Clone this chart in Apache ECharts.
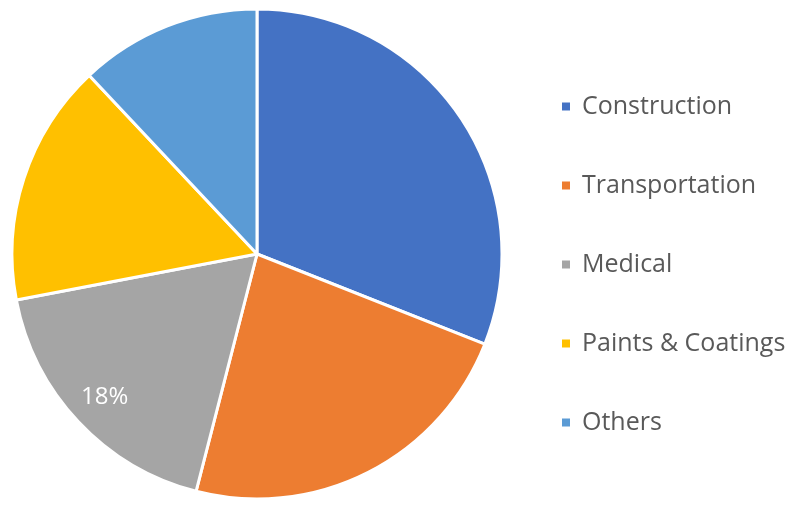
<!DOCTYPE html>
<html>
<head>
<meta charset="utf-8">
<script src="https://cdn.jsdelivr.net/npm/echarts@6/dist/echarts.min.js"></script>
<style>html,body{margin:0;padding:0;background:#fff}#c{width:800px;height:508px}</style>
</head>
<body>
<div id="c"></div>
<script>
const categories = ['Construction', 'Transportation', 'Medical', 'Paints & Coatings', 'Others'];
const shares = [31, 23, 18, 16, 12];
const colors = ['#4472C4', '#ED7D31', '#A5A5A5', '#FFC000', '#5B9BD5'];
const labelled = ['Medical'];

const chart = echarts.init(document.getElementById('c'), null, {renderer: 'canvas'});
const mainData = categories.map((n, i) => ({name: n, value: shares[i], itemStyle: {color: colors[i]}}));
const labelData = categories.map((n, i) => ({
  name: n, value: shares[i],
  label: {show: labelled.includes(n)}
}));
chart.setOption({
  animation: false,
  backgroundColor: '#ffffff',
  legend: {
    orient: 'vertical',
    left: 560,
    top: 94,
    padding: 0,
    data: categories,
    icon: 'rect',
    itemWidth: 10,
    itemHeight: 10,
    itemGap: 54,
    selectedMode: false,
    textStyle: {fontFamily: 'Open Sans', fontSize: 25, lineHeight: 25, color: '#595959', padding: [0, 0, 0, 6]}
  },
  series: [
    {
      type: 'pie',
      center: [257, 254],
      radius: [0, 245],
      startAngle: 90,
      clockwise: true,
      silent: true,
      data: mainData,
      label: {show: false},
      labelLine: {show: false},
      itemStyle: {borderColor: '#ffffff', borderWidth: 3}
    },
    {
      type: 'pie',
      center: [257, 254],
      radius: [167, 245],
      startAngle: 90,
      clockwise: true,
      silent: true,
      data: labelData,
      itemStyle: {color: 'rgba(0,0,0,0)', borderWidth: 0},
      label: {position: 'inside', formatter: '{d}%', color: '#ffffff', fontFamily: 'Open Sans', fontSize: 24},
      labelLine: {show: false},
      percentPrecision: 0
    }
  ]
});
</script>
</body>
</html>
